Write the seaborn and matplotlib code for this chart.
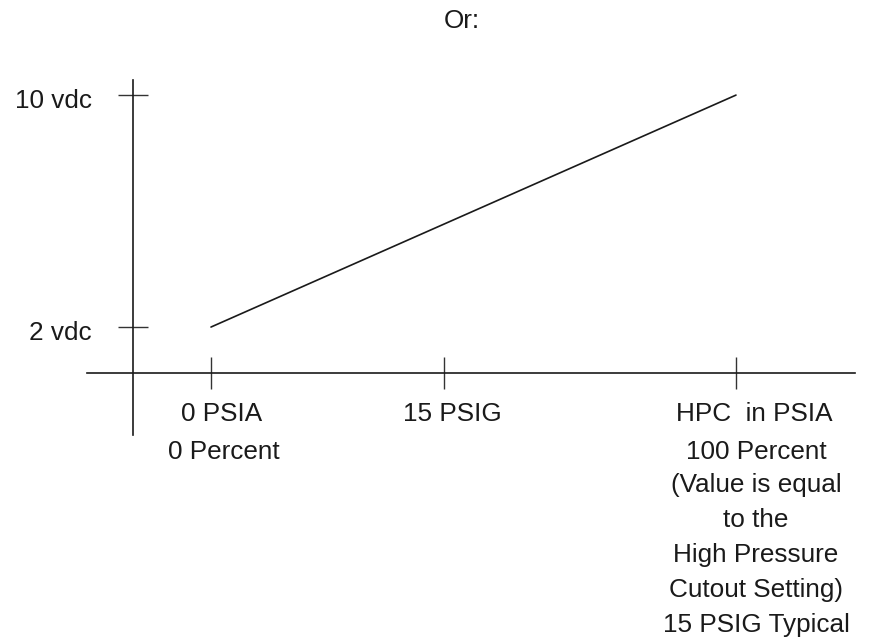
import matplotlib
matplotlib.use("Agg")
import matplotlib.pyplot as plt
import seaborn as sns

# ==========================================
# DATA
# ==========================================

# signal: 0 % -> 2 vdc, 100 % -> 10 vdc
pct = [0, 100]
vdc = [2, 10]

# x axis marks (percent of full scale, schematic spacing)
x_tick_pos = [0, 44.4, 100]
x_tick_top = ["0 PSIA", "15 PSIG", "HPC  in PSIA"]
x_tick_bottom = ["0 Percent", "", "100 Percent"]

# y axis marks
y_tick_pos = [2, 10]
y_tick_labels = ["2 vdc", "10 vdc"]

note_lines = [
    "(Value is equal",
    "to the",
    "High Pressure",
    "Cutout Setting)",
    "15 PSIG Typical",
]

title = "Or:"

# ==========================================
# STYLE
# ==========================================

sns.set_style("white")
plt.rcParams["font.family"] = ["Liberation Sans", "DejaVu Sans"]
FS = 18.8
INK = "#1a1a1a"

fig = plt.figure(figsize=(8.73, 6.39), dpi=100)
ax = fig.add_axes([0, 0, 1, 1])

# ==========================================
# LINE
# ==========================================

sns.lineplot(x=pct, y=vdc, color=INK, linewidth=1.2, ax=ax)

ax.set_xlim(-40.19, 126.1)
ax.set_ylim(-8.76, 13.28)
ax.set_xlabel("")
ax.set_ylabel("")

# ==========================================
# AXES (crossing, schematic)
# ==========================================

x_cross = -14.86
y_cross = 0.414

ax.spines["top"].set_visible(False)
ax.spines["right"].set_visible(False)
ax.spines["left"].set_position(("data", x_cross))
ax.spines["bottom"].set_position(("data", y_cross))
ax.spines["left"].set_bounds(-1.72, 10.52)
ax.spines["bottom"].set_bounds(-23.6, 122.7)
for s in ["left", "bottom"]:
    ax.spines[s].set_color(INK)
    ax.spines[s].set_linewidth(1.2)

ax.set_xticks(x_tick_pos)
ax.set_yticks(y_tick_pos)
ax.tick_params(axis="x", bottom=True, direction="inout", length=23,
               width=1.0, color="#333333", labelbottom=False)
ax.tick_params(axis="y", left=True, direction="inout", length=22,
               width=1.0, color="#333333", labelleft=False)

# ==========================================
# LABELS
# ==========================================

x_shift = [11, 8, 18]
for xp, top, bot, dx in zip(x_tick_pos, x_tick_top, x_tick_bottom, x_shift):
    ax.annotate(top, xy=(xp, y_cross), xytext=(dx, -48),
                textcoords="offset pixels", ha="center", va="baseline",
                fontsize=FS, color=INK)
    if bot:
        ax.annotate(bot, xy=(xp, y_cross), xytext=(dx + 2, -86),
                    textcoords="offset pixels", ha="center", va="baseline",
                    fontsize=FS, color=INK)

for i, line in enumerate(note_lines):
    ax.annotate(line, xy=(x_tick_pos[-1], y_cross),
                xytext=(20, -119 - i * 35),
                textcoords="offset pixels", ha="center", va="baseline",
                fontsize=FS, color=INK)

for yp, lab in zip(y_tick_pos, y_tick_labels):
    ax.annotate(lab, xy=(x_cross, yp), xytext=(-41, -6),
                textcoords="offset pixels", ha="right", va="center",
                fontsize=FS, color=INK)

fig.text(462 / 873, 1 - 28 / 639, title, ha="center", va="baseline",
         fontsize=FS, color=INK)

fig.savefig("out.png", dpi=100)
